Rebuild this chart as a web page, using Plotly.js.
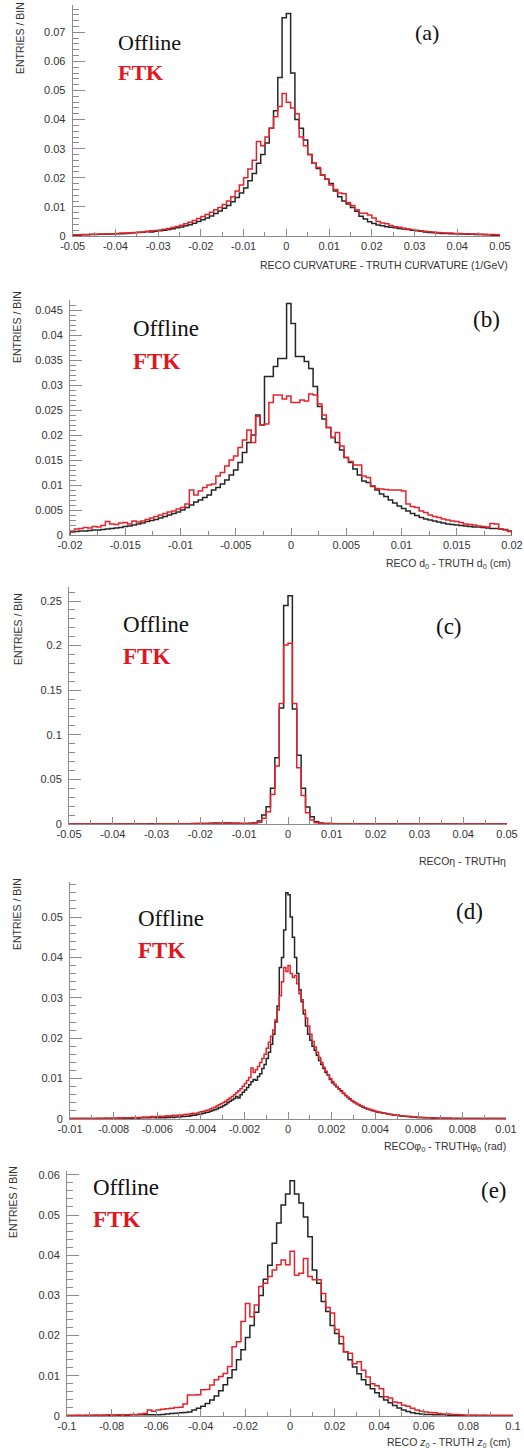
<!DOCTYPE html>
<html>
<head>
<meta charset="utf-8">
<script src="https://cdn.plot.ly/plotly-3.0.1.min.js"></script>
<style>html,body{margin:0;padding:0;background:#fff;}#chart{width:524px;height:1452px;}</style>
</head>
<body>
<div id="chart"></div>
<script>
// ---------------- DATA ----------------
// (a) curvature residual, 100 bins from -0.05 to 0.05
const rangeA = [-0.05, 0.05];
const offlineA = [0.0003,0.0003,0.0004,0.0004,0.0005,0.0005,0.0006,0.0006,0.0007,0.0007,
0.0008,0.0008,0.0009,0.001,0.0011,0.0012,0.0013,0.0015,0.0014,0.0016,
0.0018,0.002,0.0022,0.0025,0.0028,0.0031,0.0035,0.0039,0.0044,0.005,
0.0056,0.0062,0.0069,0.0077,0.0086,0.0095,0.0105,0.0118,0.0132,0.0148,
0.0165,0.019,0.0215,0.025,0.028,0.032,0.037,0.043,0.0545,0.075,
0.0765,0.056,0.040,0.037,0.033,0.028,0.025,0.0232,0.021,0.0195,
0.018,0.0155,0.0135,0.012,0.011,0.0098,0.0085,0.0068,0.0058,0.0049,
0.0043,0.0038,0.0035,0.0032,0.003,0.0028,0.0026,0.0024,0.0022,0.002,
0.0018,0.0016,0.0014,0.0012,0.0011,0.001,0.0009,0.0009,0.0008,0.0008,
0.0007,0.0007,0.0006,0.0006,0.0005,0.0005,0.0004,0.0004,0.0003,0.0003];
const ftkA = [0.0004,0.0004,0.0005,0.0005,0.0006,0.0006,0.0007,0.0007,0.0008,0.0008,
0.0009,0.001,0.001,0.0011,0.0012,0.0013,0.0014,0.0016,0.0018,0.0019,
0.0021,0.0023,0.0026,0.0029,0.0033,0.0037,0.0042,0.0047,0.0053,0.006,
0.0067,0.0074,0.0082,0.009,0.0098,0.0108,0.012,0.0135,0.0155,0.0175,
0.02,0.023,0.026,0.0325,0.031,0.034,0.037,0.041,0.0445,0.049,
0.046,0.044,0.042,0.034,0.031,0.028,0.025,0.0235,0.021,0.0195,
0.0175,0.016,0.0148,0.0145,0.0115,0.0105,0.009,0.0078,0.0078,0.0072,
0.0062,0.005,0.0045,0.0042,0.0036,0.0032,0.003,0.0027,0.0024,0.0022,
0.002,0.0018,0.0016,0.0015,0.0014,0.0012,0.0011,0.001,0.001,0.0009,
0.0009,0.0008,0.0008,0.0007,0.0007,0.0006,0.0006,0.0005,0.0005,0.0004];

// (b) d0 residual, 100 bins from -0.02 to 0.02
const rangeB = [-0.02, 0.02];
const offlineB = [0.0006,0.0007,0.0008,0.0008,0.0009,0.001,0.001,0.0011,0.0012,0.0013,
0.0014,0.0015,0.0017,0.0018,0.002,0.0022,0.0024,0.0027,0.0029,0.0031,
0.0034,0.0037,0.004,0.0043,0.0046,0.005,0.0055,0.006,0.0066,0.007,
0.0075,0.008,0.009,0.0095,0.0102,0.011,0.012,0.013,0.0145,0.0165,
0.0185,0.020,0.024,0.022,0.0317,0.0317,0.0337,0.0353,0.0353,0.0463,
0.0423,0.0357,0.0357,0.0347,0.0333,0.0297,0.0257,0.0232,0.0215,0.0195,
0.0185,0.017,0.0155,0.0145,0.0132,0.012,0.0108,0.0105,0.0098,0.009,
0.0082,0.0077,0.007,0.0064,0.0058,0.0053,0.0048,0.0043,0.0039,0.0035,
0.0032,0.003,0.0028,0.0026,0.0024,0.0022,0.0021,0.002,0.0019,0.0018,
0.0017,0.0016,0.0016,0.0015,0.0014,0.0013,0.0013,0.0012,0.0011,0.0008];
const ftkB = [0.0008,0.0012,0.0013,0.0015,0.0014,0.0017,0.0016,0.0019,0.0027,0.0022,
0.0021,0.0024,0.0025,0.0022,0.0028,0.0026,0.0028,0.0031,0.0034,0.0037,
0.004,0.0043,0.0046,0.0048,0.0052,0.0055,0.0062,0.009,0.008,0.0088,
0.0095,0.01,0.0102,0.0118,0.0125,0.0138,0.015,0.0158,0.0175,0.019,
0.021,0.0185,0.0237,0.022,0.0222,0.0265,0.028,0.028,0.0272,0.0278,
0.0265,0.0265,0.027,0.0268,0.0282,0.028,0.0262,0.024,0.0215,0.0195,
0.0205,0.0178,0.0155,0.0147,0.014,0.014,0.0118,0.0115,0.0097,0.0093,
0.0092,0.0091,0.009,0.009,0.009,0.0088,0.0062,0.0057,0.0055,0.0048,
0.0045,0.004,0.0037,0.0035,0.0032,0.003,0.0028,0.0027,0.0025,0.0022,
0.0021,0.002,0.0018,0.0017,0.0016,0.0023,0.0022,0.0012,0.001,0.0007];

// (c) eta residual, 100 bins from -0.05 to 0.05
const rangeC = [-0.05, 0.05];
const offlineC = [0,0,0,0,0,0,0,0,0,0.0001,
0.0001,0,0.0001,0.0001,0.0001,0.0001,0.0001,0.0001,0.0002,0.0001,
0.0002,0.0002,0.0002,0.0003,0.0003,0.0003,0.0004,0.0004,0.0005,0.0005,
0.0006,0.0007,0.0008,0.001,0.0008,0.0012,0.0010,0.0009,0.0008,0.0007,
0.0006,0.0009,0.0015,0.0034,0.0101,0.0194,0.040,0.0743,0.130,0.245,
0.256,0.129,0.077,0.040,0.019,0.0082,0.0026,0.0012,0.0007,0.0005,
0.0004,0.0003,0.0003,0.0002,0.0002,0.0002,0.0001,0.0001,0.0001,0.0001,
0.0001,0.0001,0.0001,0,0.0001,0,0,0.0001,0,0,
0,0,0,0,0,0,0,0,0,0,
0,0,0,0,0,0,0,0,0,0];
const ftkC = [0,0,0,0,0,0,0,0,0,0,
0,0,0,0.0001,0,0.0001,0.0001,0.0001,0.0001,0.0001,
0.0001,0.0002,0.0002,0.0002,0.0003,0.0003,0.0003,0.0004,0.0004,0.0005,
0.0005,0.0006,0.0006,0.0007,0.0008,0.0009,0.0009,0.0008,0.0008,0.0007,
0.0007,0.0008,0.001,0.002,0.0064,0.0138,0.033,0.065,0.135,0.2006,
0.2025,0.135,0.063,0.032,0.0127,0.0045,0.0015,0.0008,0.0006,0.0005,
0.0004,0.0004,0.0003,0.0003,0.0002,0.0002,0.0002,0.0001,0.0001,0.0001,
0.0001,0.0001,0,0.0001,0,0,0,0,0,0,
0,0,0,0,0,0,0,0,0,0,
0,0,0,0,0,0,0,0,0,0];

// (d) phi0 residual, 200 bins from -0.01 to 0.01
const rangeD = [-0.01, 0.01];
const offlineD = [0.0001,0.0001,0.0001,0.0001,0.0001,0.0001,0.0001,0.0001,0.0001,0.0001,
0.0001,0.0001,0.0001,0.0001,0.0001,0.0001,0.0002,0.0001,0.0001,0.0002,
0.0002,0.0001,0.0002,0.0002,0.0002,0.0002,0.0003,0.0002,0.0002,0.0003,
0.0003,0.0002,0.0003,0.0003,0.0004,0.0003,0.0003,0.0004,0.0004,0.0003,
0.0003,0.0003,0.0004,0.0003,0.0004,0.0004,0.0005,0.0004,0.0005,0.0005,
0.0005,0.0006,0.0006,0.0007,0.0007,0.0008,0.001,0.0009,0.0011,0.0012,
0.0013,0.0014,0.0016,0.0017,0.0019,0.0021,0.0023,0.0025,0.0028,0.003,
0.0033,0.0036,0.004,0.0044,0.0047,0.0051,0.0056,0.0052,0.006,0.0066,
0.0072,0.0078,0.0085,0.0092,0.0098,0.0096,0.0105,0.0112,0.0125,0.0135,
0.015,0.0165,0.0185,0.021,0.024,0.028,0.0375,0.040,0.0468,0.056,
0.0555,0.050,0.045,0.040,0.036,0.032,0.029,0.026,0.023,0.021,
0.0195,0.018,0.017,0.0158,0.0145,0.0135,0.0125,0.0115,0.0108,0.0098,
0.009,0.0085,0.008,0.0075,0.007,0.0064,0.0058,0.0053,0.0049,0.0045,
0.0041,0.0038,0.0035,0.0032,0.0029,0.0027,0.0025,0.0023,0.0021,0.002,
0.0018,0.0017,0.0016,0.0015,0.0014,0.0013,0.0012,0.0011,0.001,0.0009,
0.0009,0.0008,0.0007,0.0007,0.0006,0.0006,0.0005,0.0005,0.0005,0.0004,
0.0004,0.0004,0.0003,0.0003,0.0003,0.0003,0.0002,0.0002,0.0002,0.0002,
0.0002,0.0002,0.0002,0.0001,0.0002,0.0001,0.0001,0.0001,0.0001,0.0001,
0.0001,0.0001,0.0001,0.0001,0.0001,0.0001,0.0001,0.0001,0.0001,0.0001,
0.0001,0.0001,0.0001,0.0001,0.0001,0.0001,0.0001,0.0001,0.0001,0.0001];
const ftkD = [0.0001,0.0001,0.0001,0.0001,0.0001,0.0001,0.0001,0.0001,0.0001,0.0001,
0.0001,0.0001,0.0001,0.0002,0.0001,0.0002,0.0002,0.0002,0.0002,0.0002,
0.0002,0.0002,0.0003,0.0002,0.0003,0.0003,0.0003,0.0003,0.0004,0.0003,
0.0004,0.0004,0.0004,0.0005,0.0004,0.0005,0.0005,0.0006,0.0005,0.0006,
0.0006,0.0007,0.0006,0.0007,0.0008,0.0007,0.0008,0.0009,0.0008,0.0009,
0.001,0.0009,0.0011,0.0012,0.0011,0.0013,0.0014,0.0013,0.0015,0.0017,
0.0018,0.0019,0.0021,0.0022,0.0025,0.0027,0.0029,0.0032,0.0035,0.0038,
0.0041,0.0044,0.0048,0.0052,0.0056,0.006,0.0065,0.007,0.0075,0.0081,
0.0088,0.0095,0.0103,0.0126,0.0115,0.0122,0.013,0.014,0.015,0.016,
0.0175,0.019,0.0205,0.022,0.0245,0.027,0.0305,0.034,0.0375,0.0365,
0.038,0.036,0.035,0.0355,0.0335,0.031,0.0295,0.027,0.025,0.023,
0.021,0.0192,0.0178,0.0165,0.0152,0.014,0.0128,0.0118,0.0109,0.01,
0.0093,0.0086,0.008,0.0074,0.0068,0.0063,0.0058,0.0054,0.005,0.0046,
0.0042,0.0039,0.0036,0.0033,0.0031,0.0028,0.0026,0.0024,0.0022,0.0021,
0.0019,0.0018,0.0016,0.0015,0.0014,0.0013,0.0012,0.0011,0.001,0.0009,
0.0009,0.0008,0.0008,0.0007,0.0007,0.0006,0.0006,0.0005,0.0005,0.0005,
0.0004,0.0004,0.0004,0.0003,0.0003,0.0003,0.0003,0.0003,0.0002,0.0002,
0.0002,0.0002,0.0002,0.0002,0.0002,0.0001,0.0001,0.0002,0.0001,0.0001,
0.0001,0.0001,0.0001,0.0001,0.0001,0.0001,0.0001,0.0001,0.0001,0.0001,
0.0001,0.0001,0.0001,0.0001,0.0001,0.0001,0.0001,0.0001,0.0001,0.0001];

// (e) z0 residual, 100 bins from -0.1 to 0.1
const rangeE = [-0.1, 0.1];
const offlineE = [0.0001,0.0001,0.0001,0.0001,0.0001,0.0001,0.0002,0.0001,0.0002,0.0002,
0.0002,0.0002,0.0003,0.0002,0.0003,0.0003,0.0003,0.0003,0.0003,0.0003,
0.0003,0.0004,0.0005,0.0006,0.0007,0.0008,0.0009,0.001,0.0015,0.0019,
0.0024,0.0031,0.004,0.005,0.0063,0.0078,0.0095,0.0115,0.014,0.0165,
0.0195,0.0225,0.0258,0.03,0.034,0.0375,0.043,0.048,0.0525,0.0552,
0.0585,0.0552,0.053,0.0495,0.0446,0.0363,0.033,0.0285,0.026,0.0225,
0.0205,0.018,0.016,0.014,0.0122,0.0105,0.009,0.0078,0.0068,0.0058,
0.0048,0.004,0.0033,0.0026,0.002,0.0015,0.0011,0.0008,0.0006,0.0005,
0.0004,0.0004,0.0003,0.0003,0.0003,0.0002,0.0002,0.0002,0.0002,0.0001,
0.0001,0.0001,0.0001,0.0001,0.0001,0.0001,0.0001,0.0001,0.0001,0.0001];
const ftkE = [0.0001,0.0001,0.0002,0.0001,0.0002,0.0002,0.0001,0.0002,0.0002,0.0003,
0.0002,0.0003,0.0003,0.0003,0.0004,0.0004,0.0005,0.0006,0.0015,0.0012,
0.0015,0.0017,0.0018,0.0019,0.0021,0.0022,0.003,0.0052,0.0052,0.0053,
0.0065,0.0066,0.0077,0.009,0.0098,0.0106,0.0123,0.0172,0.0185,0.0235,
0.028,0.0247,0.0276,0.0322,0.033,0.0347,0.0363,0.0376,0.0388,0.0376,
0.041,0.035,0.0355,0.0392,0.0347,0.0339,0.0339,0.0305,0.027,0.0256,
0.0215,0.0198,0.016,0.0156,0.013,0.0135,0.0114,0.0097,0.008,0.0075,
0.0068,0.0048,0.0045,0.0035,0.0033,0.0027,0.0024,0.0019,0.0015,0.0012,
0.001,0.0009,0.0008,0.0006,0.0005,0.0005,0.0004,0.0004,0.0003,0.0002,
0.0002,0.0002,0.0001,0.0002,0.0001,0.0001,0.0001,0.0001,0.0001,0.0001];

// tick values / labels
const xTicksA = [-0.05,-0.04,-0.03,-0.02,-0.01,0,0.01,0.02,0.03,0.04,0.05];
const xLabelsA = ["-0.05","-0.04","-0.03","-0.02","-0.01","0","0.01","0.02","0.03","0.04","0.05"];
const yTicksA = [0,0.01,0.02,0.03,0.04,0.05,0.06,0.07];
const yLabelsA = ["0","0.01","0.02","0.03","0.04","0.05","0.06","0.07"];
const xTicksB = [-0.02,-0.015,-0.01,-0.005,0,0.005,0.01,0.015,0.02];
const xLabelsB = ["-0.02","-0.015","-0.01","-0.005","0","0.005","0.01","0.015","0.02"];
const yTicksB = [0,0.005,0.01,0.015,0.02,0.025,0.03,0.035,0.04,0.045];
const yLabelsB = ["0","0.005","0.01","0.015","0.02","0.025","0.03","0.035","0.04","0.045"];
const xTicksC = xTicksA, xLabelsC = xLabelsA;
const yTicksC = [0,0.05,0.1,0.15,0.2,0.25];
const yLabelsC = ["0","0.05","0.1","0.15","0.2","0.25"];
const xTicksD = [-0.01,-0.008,-0.006,-0.004,-0.002,0,0.002,0.004,0.006,0.008,0.01];
const xLabelsD = ["-0.01","-0.008","-0.006","-0.004","-0.002","0","0.002","0.004","0.006","0.008","0.01"];
const yTicksD = [0,0.01,0.02,0.03,0.04,0.05];
const yLabelsD = ["0","0.01","0.02","0.03","0.04","0.05"];
const xTicksE = [-0.1,-0.08,-0.06,-0.04,-0.02,0,0.02,0.04,0.06,0.08,0.1];
const xLabelsE = ["-0.1","-0.08","-0.06","-0.04","-0.02","0","0.02","0.04","0.06","0.08","0.1"];
const yTicksE = [0,0.01,0.02,0.03,0.04,0.05,0.06];
const yLabelsE = ["0","0.01","0.02","0.03","0.04","0.05","0.06"];

const seriesNames = ["Offline", "FTK"];
const panelLetters = ["(a)","(b)","(c)","(d)","(e)"];
const xTitles = ["RECO CURVATURE - TRUTH CURVATURE (1/GeV)",
  "RECO d<sub>0</sub> - TRUTH d<sub>0</sub> (cm)",
  "RECO\u03b7 - TRUTH\u03b7",
  "RECO\u03c6<sub>0</sub> - TRUTH\u03c6<sub>0</sub> (rad)",
  "RECO <i>z</i><sub>0</sub> - TRUTH <i>z</i><sub>0</sub> (cm)"];
const yTitle = "ENTRIES / BIN";

// ---------------- LAYOUT ----------------
const W = 524, H = 1452;
const px = v => v / W;
const py = v => 1 - v / H;

const panels = [
  {off: offlineA, ftk: ftkA, xr: rangeA, xt: xTicksA, xl: xLabelsA, yt: yTicksA, yl: yLabelsA,
   x0: 72.7, x1: 500, yb: 236, ytop: 5, ypx: 2910, xminor: 0.005, yminor: 0.002,
   leg: {x: 116, y1: 42, y2: 72, fs: 22}, lab: {x: 413, y: 33}, xtit: {x: 510, y: 265}, ytit: {x: 20, y: 0}},
  {off: offlineB, ftk: ftkB, xr: rangeB, xt: xTicksB, xl: xLabelsB, yt: yTicksB, yl: yLabelsB,
   x0: 70, x1: 512, yb: 535, ytop: 300, ypx: 5000, xminor: 0.0025, yminor: 0.001,
   leg: {x: 131, y1: 328, y2: 361, fs: 23}, lab: {x: 471, y: 319}, xtit: {x: 513, y: 564}, ytit: {x: 17, y: 289}},
  {off: offlineC, ftk: ftkC, xr: rangeC, xt: xTicksC, xl: xLabelsC, yt: yTicksC, yl: yLabelsC,
   x0: 69, x1: 507, yb: 824, ytop: 587, ypx: 892, xminor: 0.005, yminor: 0.01,
   leg: {x: 121, y1: 624, y2: 656, fs: 23}, lab: {x: 434, y: 626}, xtit: {x: 508, y: 861}, ytit: {x: 18, y: 591}},
  {off: offlineD, ftk: ftkD, xr: rangeD, xt: xTicksD, xl: xLabelsD, yt: yTicksD, yl: yLabelsD,
   x0: 70, x1: 506, yb: 1119, ytop: 882, ypx: 4040, xminor: 0.001, yminor: 0.002,
   leg: {x: 136, y1: 918, y2: 950, fs: 23}, lab: {x: 454, y: 911}, xtit: {x: 508, y: 1147}, ytit: {x: 17, y: 876}},
  {off: offlineE, ftk: ftkE, xr: rangeE, xt: xTicksE, xl: xLabelsE, yt: yTicksE, yl: yLabelsE,
   x0: 67, x1: 513, yb: 1416, ytop: 1171, ypx: 4020, xminor: 0.01, yminor: 0.002,
   leg: {x: 91, y1: 1187, y2: 1219, fs: 23}, lab: {x: 479, y: 1190}, xtit: {x: 513, y: 1443}, ytit: {x: 13, y: 1164}}
];

const BLACK = "#262626", RED = "#e3232b", AXIS = "#8c8c8c", TXT = "#333333";
const tickFont = {family: "Liberation Sans, Arial, sans-serif", size: 11, color: TXT};

function stepTrace(vals, lo, hi, color, xa, ya, name) {
  const n = vals.length, w = (hi - lo) / n;
  const x = [lo], y = [0];
  for (let i = 0; i < n; i++) { x.push(lo + i * w); y.push(vals[i]); }
  x.push(hi); y.push(vals[n - 1]);
  x.push(hi); y.push(0);
  return {type: "scatter", mode: "lines", x, y, xaxis: xa, yaxis: ya, name,
    line: {shape: "hv", color, width: 1.5}, hoverinfo: "skip", showlegend: false};
}

const data = [];
const layout = {
  width: W, height: H, margin: {l: 0, r: 0, t: 0, b: 0},
  paper_bgcolor: "#fff", plot_bgcolor: "#fff", showlegend: false,
  annotations: []
};

panels.forEach((p, i) => {
  const k = i === 0 ? "" : String(i + 1);
  const xa = "x" + k, ya = "y" + k;
  data.push(stepTrace(p.off, p.xr[0], p.xr[1], BLACK, xa, ya, seriesNames[0]));
  data.push(stepTrace(p.ftk, p.xr[0], p.xr[1], RED, xa, ya, seriesNames[1]));
  const ymax = (p.yb - p.ytop) / p.ypx;
  layout["xaxis" + k] = {
    domain: [px(p.x0), px(p.x1)], anchor: ya, range: p.xr,
    showgrid: false, zeroline: false, showline: true, linecolor: AXIS, linewidth: 1,
    ticks: "inside", ticklen: 7, tickcolor: AXIS, tickwidth: 1,
    tickmode: "array", tickvals: p.xt, ticktext: p.xl, tickfont: tickFont, ticklabelstandoff: 0,
    minor: {ticks: "inside", ticklen: 4, tickcolor: AXIS, dtick: p.xminor, tick0: 0, showgrid: false},
    fixedrange: true
  };
  layout["yaxis" + k] = {
    domain: [py(p.yb), py(p.ytop)], anchor: xa, range: [0, ymax],
    showgrid: false, zeroline: false, showline: true, linecolor: AXIS, linewidth: 1,
    ticks: "inside", ticklen: 12, tickcolor: AXIS, tickwidth: 1,
    tickmode: "array", tickvals: p.yt, ticktext: p.yl, tickfont: tickFont, ticklabelstandoff: 4,
    minor: {ticks: "inside", ticklen: 6, tickcolor: AXIS, dtick: p.yminor, tick0: 0, showgrid: false},
    fixedrange: true
  };
  const A = layout.annotations;
  A.push({xref: "paper", yref: "paper", x: px(p.leg.x), y: py(p.leg.y1), xanchor: "left", yanchor: "middle",
    text: seriesNames[0], showarrow: false,
    font: {family: "Liberation Serif, Times New Roman, serif", size: p.leg.fs, color: "#111"}});
  A.push({xref: "paper", yref: "paper", x: px(p.leg.x), y: py(p.leg.y2), xanchor: "left", yanchor: "middle",
    text: "<b>" + seriesNames[1] + "</b>", showarrow: false,
    font: {family: "Liberation Serif, Times New Roman, serif", size: p.leg.fs, color: "#e0161e"}});
  A.push({xref: "paper", yref: "paper", x: px(p.lab.x), y: py(p.lab.y), xanchor: "left", yanchor: "middle",
    text: panelLetters[i], showarrow: false,
    font: {family: "Liberation Serif, Times New Roman, serif", size: p.leg.fs, color: "#111"}});
  A.push({xref: "paper", yref: "paper", x: px(p.xtit.x), y: py(p.xtit.y), xanchor: "right", yanchor: "middle",
    text: xTitles[i], showarrow: false,
    font: {family: "Liberation Sans, Arial, sans-serif", size: 10.5, color: TXT}});
  A.push({xref: "paper", yref: "paper", x: px(p.ytit.x), y: py(p.ytit.y), xanchor: "center", yanchor: "top",
    text: yTitle, showarrow: false, textangle: -90,
    font: {family: "Liberation Sans, Arial, sans-serif", size: 10.5, color: TXT}});
});

Plotly.newPlot("chart", data, layout, {displayModeBar: false, staticPlot: true});
</script>
</body>
</html>
